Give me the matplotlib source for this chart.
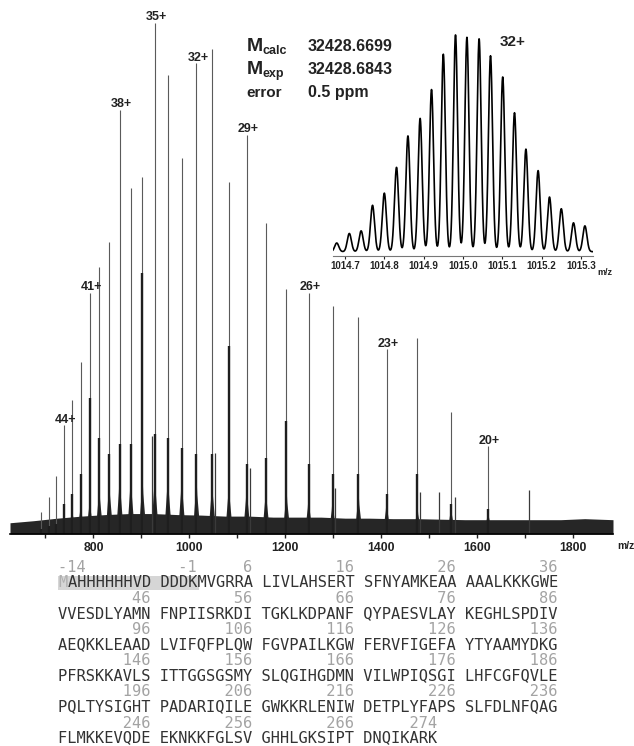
import numpy as np
import matplotlib.pyplot as plt
from matplotlib.patches import Rectangle

plt.rcParams['font.family'] = ['Liberation Sans', 'DejaVu Sans']
plt.rcParams['font.weight'] = 'bold'

# charge state series: m/z of each main peak, intensity in % of the 35+ peak
charges = [47, 46, 45, 44, 43, 42, 41, 40, 39, 38, 37, 36, 35, 34,
           33, 32, 31, 30, 29, 28, 27, 26, 25, 24, 23, 22, 21, 20]
peak_mz = [691.4, 706.4, 722.1, 738.5, 755.6, 773.6, 792.4, 812.2, 833.0, 854.9,
           878.0, 902.3, 928.1, 955.4, 984.3, 1015.0, 1047.7, 1082.6, 1119.9, 1159.9,
           1202.8, 1249.0, 1298.9, 1353.0, 1411.8, 1475.9, 1546.1, 1623.4]
peak_int = [4.4, 7.3, 11.4, 21.3, 26.2, 33.7, 47.2, 52.3, 57.2, 83.0,
            67.7, 69.9, 100.0, 89.8, 73.6, 92.1, 94.9, 68.9, 78.1, 60.9,
            47.9, 47.2, 44.7, 42.5, 36.2, 38.4, 23.9, 17.2]
# darker lower part of each line, and the broad base of each cluster
core_int = [1.0, 1.5, 2.0, 5.9, 7.8, 11.7, 26.6, 18.8, 15.7, 17.6,
            17.6, 51.0, 19.6, 18.8, 16.8, 15.7, 15.7, 36.8, 13.7, 14.9,
            22.1, 13.7, 11.7, 11.7, 7.8, 11.7, 5.9, 4.9]
base_int = [0.8, 1.2, 2.0, 4.7, 5.5, 6.3, 7.4, 10.2, 11.4, 12.5,
            12.5, 12.1, 12.9, 12.9, 12.1, 11.7, 11.4, 10.8, 10.2, 9.8,
            9.4, 7.8, 7.0, 8.8, 7.0, 5.9, 5.9, 5.1]
labelled = [44, 41, 38, 35, 32, 29, 26, 23, 20]

# smaller peaks next to the main series
side_mz = [921.6, 1053.1, 1126.7, 1304.1, 1481.4, 1521.6, 1553.8, 1708.8]
side_int = [19.2, 15.8, 13.0, 9.0, 8.3, 8.3, 7.3, 8.7]

# top of the noise floor
noise_mz = [626, 675, 725, 775, 825, 875, 925, 975, 1025, 1075, 1125, 1175, 1225,
            1275, 1325, 1375, 1425, 1475, 1525, 1575, 1625, 1675, 1725, 1775, 1825, 1884]
noise_int = [2.2, 2.6, 3.1, 3.5, 3.8, 4.0, 4.0, 3.8, 3.7, 3.5, 3.5, 3.3, 3.3,
             3.3, 3.1, 3.1, 3.0, 3.0, 2.9, 2.8, 2.8, 2.8, 2.8, 2.8, 3.0, 2.8]

# isotope distribution of the 32+ ion
iso_mz = [1014.679, 1014.711, 1014.741, 1014.770, 1014.800, 1014.831, 1014.860, 1014.891,
          1014.920, 1014.950, 1014.981, 1015.010, 1015.041, 1015.070, 1015.101, 1015.131,
          1015.160, 1015.191, 1015.220, 1015.250, 1015.281, 1015.310]
iso_int = [0.04, 0.084, 0.096, 0.214, 0.27, 0.389, 0.534, 0.615, 0.748, 0.911, 1.0,
           0.989, 0.982, 0.904, 0.806, 0.641, 0.473, 0.374, 0.252, 0.198, 0.133, 0.119]
iso_ticks = [1014.7, 1014.8, 1014.9, 1015.0, 1015.1, 1015.2, 1015.3]

mass_sub = ['calc', 'exp']
mass_val = ['32428.6699', '32428.6843']
error_val = '0.5 ppm'

sequence = ('MAHHHHHHVDDDDKMVGRRALIVLAHSERTSFNYAMKEAAAAALKKKGWE'
            'VVESDLYAMNFNPIISRKDITGKLKDPANFQYPAESVLAYKEGHLSPDIV'
            'AEQKKLEAADLVIFQFPLQWFGVPAILKGWFERVFIGEFAYTYAAMYDKG'
            'PFRSKKAVLSITTGGSGSMYSLQGIHGDMNVILWPIQSGILHFCGFQVLE'
            'PQLTYSIGHTPADARIQILEGWKKRLENIWDETPLYFAPSSLFDLNFQAG'
            'FLMKKEVQDEEKNKKFGLSVGHHLGKSIPTDNQIKARK')
tag_len = 14
numbered = [-14, -1, 6, 16, 26, 36, 46, 56, 66, 76, 86, 96, 106, 116, 126, 136,
            146, 156, 166, 176, 186, 196, 206, 216, 226, 236, 246, 256, 266, 274]

W, H = 634, 746
fig = plt.figure(figsize=(W / 100, H / 100), dpi=100)

# main spectrum
ax = fig.add_axes([10 / W, 1 - 534 / H, 603 / W, 534 / H])
dark = '#262626'
ax.fill_between(noise_mz, 0, noise_int, color=dark, lw=0)
for mz, b in zip(peak_mz, base_int):
    ax.fill([mz - 13, mz - 5, mz - 1.8, mz, mz + 1.8, mz + 5.5, mz + 14],
            [0, b * 0.3, b * 0.65, b, b * 0.65, b * 0.3, 0], color=dark, lw=0)
ax.vlines(peak_mz, 0, peak_int, color='#5a5a5a', lw=0.8)
ax.vlines(peak_mz, 0, core_int, color='#1e1e1e', lw=1.7)
ax.vlines(side_mz, 0, side_int, color='#3a3a3a', lw=0.9)
for z, mz, h in zip(charges, peak_mz, peak_int):
    if z in labelled:
        ax.annotate(f'{z}+', (mz, h), xytext=(1, 1.8), textcoords='offset points',
                    ha='center', va='baseline', fontsize=9, color='#222222')
ax.set_xlim(626, 1884)
ax.set_ylim(0, 104.5)
ax.set_xticks(range(800, 1801, 200))
ax.set_xticks(range(700, 1801, 100), minor=True)
ax.tick_params(axis='x', which='both', direction='out', length=3, width=1,
               labelsize=8.8, pad=2.5, colors='#222222')
ax.set_yticks([])
for s in ['left', 'top', 'right']:
    ax.spines[s].set_visible(False)
ax.spines['bottom'].set_linewidth(1.2)
ax.patch.set_visible(False)

# inset with the isotope pattern
ins = fig.add_axes([333 / W, 1 - 256 / H, 260 / W, 231.9 / H])
x = np.linspace(1014.6695, 1015.3306, 4000)
prof = np.zeros_like(x)
for c, h in zip(iso_mz, iso_int):
    prof += h * np.exp(-0.5 * ((x - c) / 0.0052) ** 2)
ins.plot(x, prof, color='black', lw=1.2)
ins.set_xlim(1014.6695, 1015.3306)
ins.set_ylim(-0.02, 1.05)
ins.set_xticks(iso_ticks)
ins.set_xticklabels([f'{t:.1f}' for t in iso_ticks])
ins.tick_params(axis='x', length=2, width=0.8, labelsize=7, pad=1.5,
                colors='#222222')
ins.set_yticks([])
for s in ['left', 'top', 'right']:
    ins.spines[s].set_visible(False)
ins.spines['bottom'].set_color('#777777')
ins.patch.set_visible(False)

# texts in figure pixels
ov = fig.add_axes([0, 0, 1, 1])
ov.set_xlim(0, W)
ov.set_ylim(H, 0)
ov.axis('off')
tc = '#222222'
ov.text(617, 549, 'm/z', fontsize=7.5, color=tc, va='baseline')
ov.text(597, 275, 'm/z', fontsize=6.5, color=tc, va='baseline')
ov.text(512.5, 46, '32+', fontsize=11, color=tc, ha='center', va='baseline')
for k, (sub, val) in enumerate(zip(mass_sub, mass_val)):
    yb = 50.7 + 22.8 * k
    ov.text(246.5, yb, 'M', fontsize=14, color=tc, va='baseline')
    ov.text(262.5, yb + 3.6, sub, fontsize=9, color=tc, va='baseline')
    ov.text(308, yb, val, fontsize=11.5, color=tc, va='baseline')
ov.text(246.5, 96.7, 'error', fontsize=11, color=tc, va='baseline')
ov.text(308, 96.7, error_val, fontsize=11.5, color=tc, va='baseline')

# sequence with numbering
mono = 'DejaVu Sans Mono'
fs = 11.1
cw = 0.602 * fs * 100 / 72
x0 = 58.3
rows = [sequence[i:i + 50] for i in range(0, len(sequence), 50)]
num_lines = [[' '] * 54 for _ in rows]
for n in numbered:
    i = n + 14 if n < 0 else n + 13
    r, c = divmod(i, 50)
    col = c + c // 10
    lab = str(n)
    start = col if n == numbered[0] else col - len(lab) + 1
    num_lines[r][start:start + len(lab)] = list(lab)

ov.add_patch(Rectangle((x0 - 0.5, 575.5), 15 * cw + 1.5, 14, color='#d6d6d6', lw=0))
for r, row in enumerate(rows):
    yb = 586.6 + 31.1 * r
    line = ' '.join(row[j:j + 10] for j in range(0, len(row), 10))
    xs = x0
    if r == 0:
        ov.text(x0, yb, line[0], family=mono, fontsize=fs, color='#b0b0b0',
                va='baseline', fontweight='normal')
        line = line[1:]
        xs = x0 + cw
    ov.text(xs, yb, line, family=mono, fontsize=fs, color='#333333',
            va='baseline', fontweight='normal')
    ov.text(x0, yb - 14.5, ''.join(num_lines[r]).rstrip(), family=mono, fontsize=fs,
            color='#a3a3a3', va='baseline', fontweight='normal')

fig.savefig('out.png', dpi=100)
